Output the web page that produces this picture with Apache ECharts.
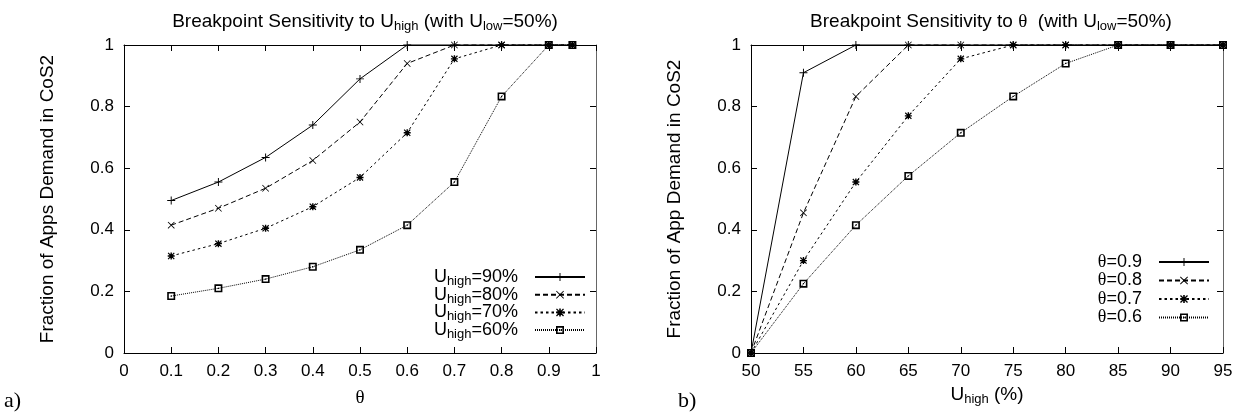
<!DOCTYPE html>
<html>
<head>
<meta charset="utf-8">
<script src="https://cdn.jsdelivr.net/npm/echarts@6/dist/echarts.min.js"></script>
<style>
  html, body { margin: 0; padding: 0; background: #fff; }
  #chart { width: 1244px; height: 419px; }
</style>
</head>
<body>
<div id="chart"></div>
<script>
// panel a): x = theta, one series per U_high
const thetaX = [0.1, 0.2, 0.3, 0.4, 0.5, 0.6, 0.7, 0.8, 0.9, 0.95];
const uHigh90 = [0.495, 0.555, 0.635, 0.74, 0.89, 1, 1, 1, 1, 1];
const uHigh80 = [0.415, 0.47, 0.535, 0.625, 0.75, 0.94, 1, 1, 1, 1];
const uHigh70 = [0.315, 0.355, 0.405, 0.475, 0.57, 0.715, 0.955, 1, 1, 1];
const uHigh60 = [0.185, 0.21, 0.24, 0.28, 0.335, 0.415, 0.555, 0.833, 1, 1];
const namesA = ['U_high=90%', 'U_high=80%', 'U_high=70%', 'U_high=60%'];

// panel b): x = U_high (%), one series per theta
const uHighX = [50, 55, 60, 65, 70, 75, 80, 85, 90, 95];
const theta09 = [0, 0.91, 1, 1, 1, 1, 1, 1, 1, 1];
const theta08 = [0, 0.455, 0.833, 1, 1, 1, 1, 1, 1, 1];
const theta07 = [0, 0.30, 0.555, 0.77, 0.955, 1, 1, 1, 1, 1];
const theta06 = [0, 0.225, 0.415, 0.575, 0.715, 0.833, 0.94, 1, 1, 1];
const namesB = ['θ=0.9', 'θ=0.8', 'θ=0.7', 'θ=0.6'];

const FONT = "'Liberation Sans', Arial, sans-serif";
const SERIF = "'Liberation Serif', serif";

// gnuplot-like point types
const sym = {
  plus: 'path://M4.4,0H5.6V4.4H10V5.6H5.6V10H4.4V5.6H0V4.4H4.4Z',
  cross: 'path://M0.8,0L5,4.2L9.2,0L10,0.8L5.8,5L10,9.2L9.2,10L5,5.8L0.8,10L0,9.2L4.2,5L0,0.8Z',
  star: 'path://M4,0H6V4H10V6H6V10H4V6H0V4H4Z M1.2,0L5,3.8L8.8,0L10,1.2L6.2,5L10,8.8L8.8,10L5,6.2L1.2,10L0,8.8L3.8,5L0,1.2Z',
  box: 'path://M0,0H10V10H0Z M2,2V8H8V2Z M4.2,4.2H5.8V5.8H4.2Z'
};
const styles = [
  { symbol: sym.plus, size: 8, dash: 'solid' },
  { symbol: sym.cross, size: 7, dash: [5, 3] },
  { symbol: sym.star, size: 7, dash: [2.5, 3] },
  { symbol: sym.box, size: 8, dash: [1, 1] }
];

function zip(xs, ys) { return xs.map((x, i) => [x, ys[i]]); }

function makeSeries(name, xs, ys, k, axisIdx) {
  const st = styles[k];
  return {
    name: name,
    type: 'line',
    xAxisIndex: axisIdx,
    yAxisIndex: axisIdx,
    data: zip(xs, ys),
    symbol: st.symbol,
    symbolSize: st.size,
    showAllSymbol: true,
    clip: false,
    lineStyle: { color: '#000', width: 1, type: st.dash },
    itemStyle: { color: '#000', borderWidth: 0 },
    emphasis: { disabled: true },
    animation: false
  };
}

// subscripts: top padding pushes the small text down inside the line
function rich(main, sub, lh, drop) {
  return {
    n: { fontSize: main, lineHeight: lh, fontFamily: FONT, fontWeight: 'normal', color: '#000' },
    s: { fontSize: sub, lineHeight: lh, verticalAlign: 'top', padding: [drop, 0, 0, 0],
         fontFamily: FONT, fontWeight: 'normal', color: '#000' },
    g: { fontSize: main, lineHeight: lh, fontFamily: SERIF, fontWeight: 'normal', color: '#000' }
  };
}
const titleRich = rich(19, 13, 20, 8);
const legRich = rich(18, 13, 18, 7);

function richName(name) {
  if (name.indexOf('U_high') === 0) return '{n|U}{s|high}{n|' + name.slice(6) + '}';
  return '{g|θ}{n|' + name.slice(1) + '}';
}

const tick = { show: true, inside: true, length: 6, lineStyle: { color: '#000', width: 1 } };
const label = { fontSize: 17, fontFamily: FONT, color: '#000', margin: 10 };
const yNameStyle = { fontSize: 19, fontFamily: FONT, color: '#000' };

function valueAxis(gridIndex, min, max, interval, extra) {
  return Object.assign({
    type: 'value', gridIndex: gridIndex, min: min, max: max, interval: interval,
    axisLine: { show: true, onZero: false, lineStyle: { color: '#000', width: 1 } },
    axisTick: tick,
    axisLabel: Object.assign({ formatter: v => String(+v.toFixed(2)) }, label),
    splitLine: { show: false }
  }, extra);
}
function mirror(base, position, color) {
  return Object.assign({}, base, {
    position: position, name: '',
    axisLabel: { show: false },
    axisLine: { show: true, onZero: false, lineStyle: { color: color, width: 1 } }
  });
}

const xA = valueAxis(0, 0, 1, 0.1, {
  name: '{g|θ}', nameLocation: 'middle', nameGap: 35,
  nameTextStyle: { rich: titleRich }
});
const yA = valueAxis(0, 0, 1, 0.2, {
  name: 'Fraction of Apps Demand in CoS2', nameLocation: 'middle', nameGap: 67,
  nameTextStyle: yNameStyle
});
const xB = valueAxis(1, 50, 95, 5, {
  name: '{n|U}{s|high}{n| (%)}', nameLocation: 'middle', nameGap: 30,
  nameTextStyle: { rich: titleRich }
});
const yB = valueAxis(1, 0, 1, 0.2, {
  name: 'Fraction of App Demand in CoS2', nameLocation: 'middle', nameGap: 67,
  nameTextStyle: yNameStyle
});

const seriesA = [uHigh90, uHigh80, uHigh70, uHigh60].map((ys, k) => makeSeries(namesA[k], thetaX, ys, k, 0));
const seriesB = [theta09, theta08, theta07, theta06].map((ys, k) => makeSeries(namesB[k], uHighX, ys, k, 1));

function legend(names, right, top, gap) {
  return {
    data: names, orient: 'vertical', align: 'right', right: right, top: top,
    padding: 0, itemGap: gap, itemWidth: 50, itemHeight: 10,
    selectedMode: false,
    formatter: richName,
    textStyle: { rich: legRich, padding: [0, 12, 0, 0] }
  };
}

const chart = echarts.init(document.getElementById('chart'), null, { renderer: 'canvas' });
chart.setOption({
  animation: false,
  backgroundColor: '#fff',
  title: [
    {
      text: '{n|Breakpoint Sensitivity to U}{s|high}{n| (with U}{s|low}{n|=50%)}',
      left: 360, top: 7, textAlign: 'center',
      textStyle: { fontWeight: 'normal', rich: titleRich }
    },
    {
      text: '{n|Breakpoint Sensitivity to }{g|θ}{n|  (with U}{s|low}{n|=50%)}',
      left: 986, top: 7, textAlign: 'center',
      textStyle: { fontWeight: 'normal', rich: titleRich }
    }
  ],
  grid: [
    { left: 124, right: 648, top: 45, bottom: 66 },
    { left: 751, right: 21, top: 45, bottom: 66 }
  ],
  xAxis: [xA, xB, mirror(xA, 'top', '#000'), mirror(xB, 'top', '#000')],
  yAxis: [yA, yB, mirror(yA, 'right', '#666'), mirror(yB, 'right', '#666')],
  legend: [legend(namesA, 658, 268, -2.3), legend(namesB, 34, 253, 0.5)],
  graphic: [
    { type: 'text', left: 4, top: 390, style: { text: 'a)', font: "22px 'Liberation Serif', serif", fill: '#000' } },
    { type: 'text', left: 678, top: 390, style: { text: 'b)', font: "22px 'Liberation Serif', serif", fill: '#000' } }
  ],
  series: seriesA.concat(seriesB)
});
</script>
</body>
</html>
